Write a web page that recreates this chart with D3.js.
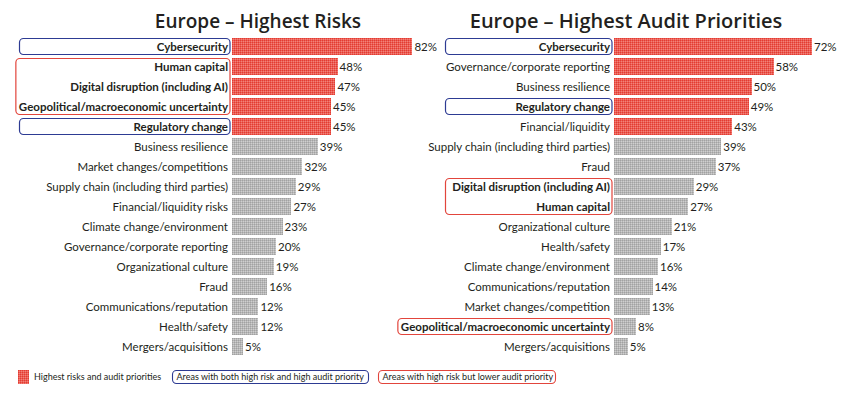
<!DOCTYPE html>
<html>
<head>
<meta charset="utf-8">
<script src="https://cdn.jsdelivr.net/npm/d3@7"></script>
<style>
  html, body { margin: 0; padding: 0; background: #fff; }
  svg { display: block; }
</style>
</head>
<body>
<div id="chart"></div>
<script>
// ── Data ──
var riskLabels = [
  'Cybersecurity', 'Human capital', 'Digital disruption (including AI)',
  'Geopolitical/macroeconomic uncertainty', 'Regulatory change', 'Business resilience',
  'Market changes/competitions', 'Supply chain (including third parties)',
  'Financial/liquidity risks', 'Climate change/environment', 'Governance/corporate reporting',
  'Organizational culture', 'Fraud', 'Communications/reputation', 'Health/safety',
  'Mergers/acquisitions'
];
var riskValues = [82, 48, 47, 45, 45, 39, 32, 29, 27, 23, 20, 19, 16, 12, 12, 5];
var riskBold = ['Cybersecurity', 'Human capital', 'Digital disruption (including AI)',
  'Geopolitical/macroeconomic uncertainty', 'Regulatory change'];

var auditLabels = [
  'Cybersecurity', 'Governance/corporate reporting', 'Business resilience',
  'Regulatory change', 'Financial/liquidity', 'Supply chain (including third parties)',
  'Fraud', 'Digital disruption (including AI)', 'Human capital', 'Organizational culture',
  'Health/safety', 'Climate change/environment', 'Communications/reputation',
  'Market changes/competition', 'Geopolitical/macroeconomic uncertainty', 'Mergers/acquisitions'
];
var auditValues = [72, 58, 50, 49, 43, 39, 37, 29, 27, 21, 17, 16, 14, 13, 8, 5];
var auditBold = ['Cybersecurity', 'Regulatory change', 'Digital disruption (including AI)',
  'Human capital', 'Geopolitical/macroeconomic uncertainty'];

var TOP_N = 5;

// highlight groups: [first label, last label, kind]
var riskGroups = [
  ['Cybersecurity', 'Cybersecurity', 'both'],
  ['Human capital', 'Geopolitical/macroeconomic uncertainty', 'lower'],
  ['Regulatory change', 'Regulatory change', 'both']
];
var auditGroups = [
  ['Cybersecurity', 'Cybersecurity', 'both'],
  ['Regulatory change', 'Regulatory change', 'both'],
  ['Digital disruption (including AI)', 'Human capital', 'lower'],
  ['Geopolitical/macroeconomic uncertainty', 'Geopolitical/macroeconomic uncertainty', 'lower']
];

var legendItems = [
  'Highest risks and audit priorities',
  'Areas with both high risk and high audit priority',
  'Areas with high risk but lower audit priority'
];

// ── Style ──
var WIDTH = 851, HEIGHT = 396;
var RED_SHADES = ['#e33c32', '#eb5d54', '#f2827a'];
var GRAY_SHADES = ['#a2a2a2', '#b7b7b7', '#cfcfcf'];
var BLUE_BOX = '#2d3b93';
var RED_BOX = '#e2453c';
var TEXT = '#231f20';
var FONT = 'Lato, "Noto Sans", sans-serif';
var TITLE_FONT = '"Open Sans", "Noto Sans", sans-serif';

var svg = d3.select('#chart').append('svg')
  .attr('width', WIDTH).attr('height', HEIGHT);

// dithered fills: 2x2 tile, dark / mid / mid / light
var defs = svg.append('defs');
function dither(id, shades) {
  var p = defs.append('pattern').attr('id', id)
    .attr('patternUnits', 'userSpaceOnUse').attr('width', 2).attr('height', 2);
  var cells = [[0, 0, 0], [1, 0, 1], [0, 1, 1], [1, 1, 2]];
  cells.forEach(function (c) {
    p.append('rect').attr('x', c[0]).attr('y', c[1]).attr('width', 1).attr('height', 1)
      .attr('fill', shades[c[2]]).attr('shape-rendering', 'crispEdges');
  });
}
dither('redDots', RED_SHADES);
dither('grayDots', GRAY_SHADES);

function drawPanel(opts) {
  var g = svg.append('g');
  var y = d3.scaleBand().domain(opts.labels)
    .range([36.5, 356.5]).paddingInner(0.15).paddingOuter(0.075);
  var x = d3.scaleLinear().domain([0, 100]).range([opts.x0, opts.x0 + opts.pxPerUnit * 100]);
  var rows = opts.labels.map(function (l, i) { return { label: l, value: opts.values[i], i: i }; });

  g.append('text')
    .attr('x', opts.titleX).attr('y', 28)
    .attr('text-anchor', 'middle')
    .attr('font-family', TITLE_FONT).attr('font-weight', 600).attr('font-size', opts.titleSize)
    .attr('fill', TEXT).text(opts.title);

  g.selectAll('.bar').data(rows).join('rect')
    .attr('x', x(0))
    .attr('y', function (d) { return y(d.label); })
    .attr('width', function (d) { return Math.round(x(d.value) - x(0)); })
    .attr('height', y.bandwidth())
    .attr('shape-rendering', 'crispEdges')
    .attr('fill', function (d) { return d.i < TOP_N ? 'url(#redDots)' : 'url(#grayDots)'; });

  g.selectAll('.val').data(rows).join('text')
    .attr('x', function (d) { return x(d.value) + 2; })
    .attr('y', function (d) { return y(d.label) + y.bandwidth() / 2; })
    .attr('dy', '0.35em')
    .attr('font-family', FONT).attr('font-size', 11.5).attr('fill', TEXT)
    .text(function (d) { return d.value + '%'; });

  var labels = g.selectAll('.lab').data(rows).join('text')
    .attr('x', x(0) - 4)
    .attr('y', function (d) { return y(d.label) + y.bandwidth() / 2; })
    .attr('dy', '0.35em')
    .attr('text-anchor', 'end')
    .attr('font-family', FONT).attr('font-size', 11.5).attr('fill', TEXT)
    .attr('font-weight', function (d) { return opts.bold.indexOf(d.label) >= 0 ? 700 : 400; })
    .text(function (d) { return d.label; });

  var widths = {};
  labels.each(function (d) { widths[d.label] = this.getComputedTextLength(); });

  opts.groups.forEach(function (grp) {
    var i0 = opts.labels.indexOf(grp[0]), i1 = opts.labels.indexOf(grp[1]);
    var maxW = 0;
    for (var i = i0; i <= i1; i++) maxW = Math.max(maxW, widths[opts.labels[i]]);
    var left = Math.min(opts.boxLeft, x(0) - 4 - maxW - 3);
    var top = y(grp[0]) + 0.5, bottom = y(grp[1]) + y.bandwidth() - 0.5;
    g.append('rect')
      .attr('x', left).attr('y', top)
      .attr('width', x(0) - 2 - left).attr('height', bottom - top)
      .attr('rx', 4).attr('fill', 'none')
      .attr('stroke', grp[2] === 'both' ? BLUE_BOX : RED_BOX).attr('stroke-width', 1.2);
  });
}

drawPanel({
  title: 'Europe \u2013 Highest Risks', titleX: 258, titleSize: 19,
  labels: riskLabels, values: riskValues, bold: riskBold, groups: riskGroups,
  x0: 232, pxPerUnit: 2.2, boxLeft: 19.5
});
drawPanel({
  title: 'Europe \u2013 Highest Audit Priorities', titleX: 626, titleSize: 20,
  labels: auditLabels, values: auditValues, bold: auditBold, groups: auditGroups,
  x0: 614, pxPerUnit: 2.75, boxLeft: 445.5
});

// ── Legend ──
var lg = svg.append('g').attr('font-family', FONT).attr('font-size', 9).attr('fill', TEXT);
lg.append('rect').attr('x', 18).attr('y', 370).attr('width', 11).attr('height', 14)
  .attr('shape-rendering', 'crispEdges').attr('fill', 'url(#redDots)');
lg.append('text').attr('x', 34).attr('y', 377).attr('dy', '0.35em').text(legendItems[0]);

var boxes = [
  { x: 172.5, w: 196, color: BLUE_BOX, text: legendItems[1] },
  { x: 378.5, w: 177, color: RED_BOX, text: legendItems[2] }
];
boxes.forEach(function (b) {
  lg.append('rect').attr('x', b.x).attr('y', 370.5).attr('width', b.w).attr('height', 13)
    .attr('rx', 4).attr('fill', 'none').attr('stroke', b.color).attr('stroke-width', 1.1);
  lg.append('text').attr('x', b.x + 4).attr('y', 377).attr('dy', '0.35em').text(b.text);
});
</script>
</body>
</html>
